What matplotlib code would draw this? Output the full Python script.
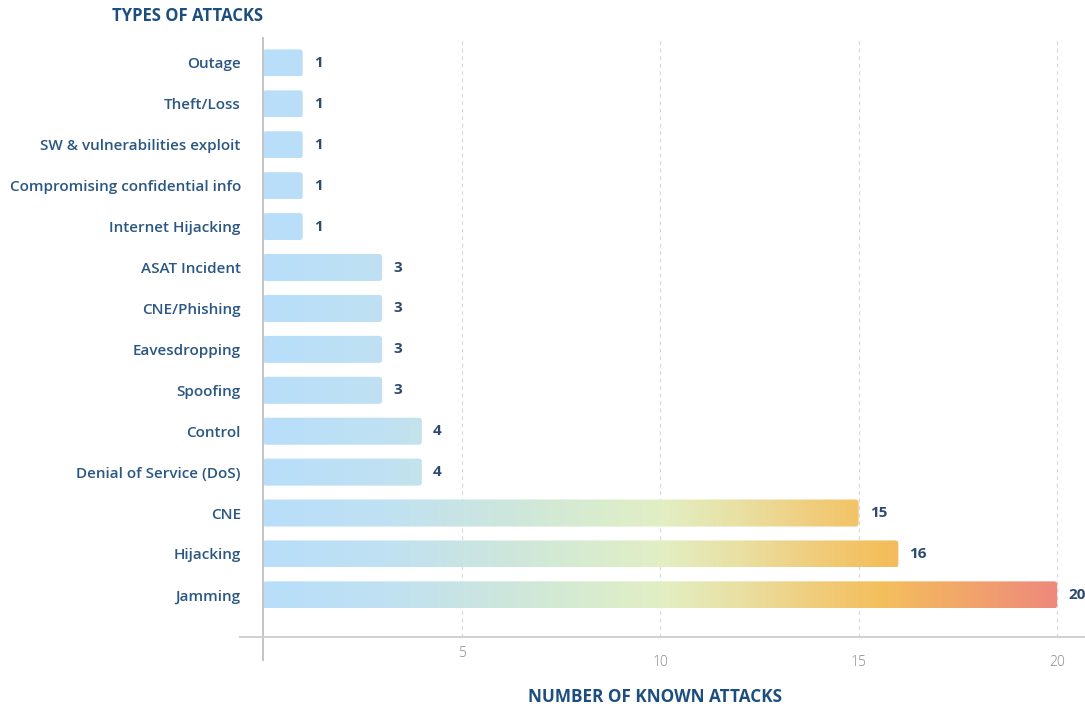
import numpy as np
import matplotlib
matplotlib.use("Agg")
import matplotlib.pyplot as plt
from matplotlib.colors import LinearSegmentedColormap
from matplotlib.patches import FancyBboxPatch
from matplotlib.lines import Line2D

# data, top row first
categories = ["Outage", "Theft/Loss", "SW & vulnerabilities exploit",
              "Compromising confidential info", "Internet Hijacking",
              "ASAT Incident", "CNE/Phishing", "Eavesdropping", "Spoofing",
              "Control", "Denial of Service (DoS)", "CNE", "Hijacking", "Jamming"]
counts = [1, 1, 1, 1, 1, 3, 3, 3, 3, 4, 4, 15, 16, 20]
x_ticks = [5, 10, 15, 20]

plt.rcParams['font.family'] = ['Open Sans', 'DejaVu Sans']

label_col = "#2b5783"
title_col = "#1d4f7e"

# gradient follows the x position, light blue -> pale green -> orange -> salmon
grad = LinearSegmentedColormap.from_list("attacks", [
    (0.00, "#b8defa"), (0.15, "#bfe1f2"), (0.25, "#c8e4e4"),
    (0.40, "#d6ebd0"), (0.50, "#e2efc4"), (0.60, "#e9e0a3"),
    (0.70, "#f0cc7a"), (0.78, "#f4bf5c"), (0.90, "#f1a26c"),
    (1.00, "#ee897c")])

fig = plt.figure(figsize=(10.85, 7.04), dpi=100)
ax = fig.add_axes([263 / 1085, 1 - 637 / 704, (1081 - 263) / 1085, (637 - 38) / 704])

pos = np.arange(len(categories))
bar_h = 0.66
bars = ax.barh(pos, counts, height=bar_h, color="none", edgecolor="none")

gmax = max(counts)
gradient = np.linspace(0, 1, 256).reshape(1, -1)
for rect in bars:
    x0, y0 = rect.get_x(), rect.get_y()
    w, h = rect.get_width(), rect.get_height()
    patch = FancyBboxPatch((x0, y0), w, h,
                           boxstyle="round,pad=0,rounding_size=0.08",
                           facecolor="none", edgecolor="none")
    ax.add_patch(patch)
    im = ax.imshow(gradient, extent=(0, gmax, y0 + h, y0), cmap=grad,
                   aspect="auto", interpolation="bicubic", zorder=2)
    im.set_clip_path(patch)

ax.bar_label(bars, labels=[str(c) for c in counts], padding=8,
             color="#2d4b6e", fontsize=11, fontweight="bold")

ax.set_xlim(0, 20.6)
ax.set_ylim(len(categories) - 1 + 1.03, -0.61)

ax.set_yticks(pos)
ax.set_yticklabels(categories, color=label_col, fontsize=11, fontweight="semibold")
ax.tick_params(axis="y", length=0, pad=16)

ax.set_xticks(x_ticks)
ax.set_xticklabels([])
ax.tick_params(axis="x", length=0)
ax.grid(axis="x", linestyle=(0, (3, 3)), color="#d9d9d9", linewidth=0.9)
ax.set_axisbelow(True)

# staggered x tick labels like the original
for i, t in enumerate(x_ticks):
    yy = -0.027 if i == 0 else -0.042
    ax.text(t, yy, str(t), transform=ax.get_xaxis_transform(), ha="center",
            va="center", fontsize=10, color="#888888", fontweight="light")

for s in ax.spines.values():
    s.set_visible(False)

# axis lines
ax.add_line(Line2D([0, 0], [1, -0.038], transform=ax.transAxes, color="#c4c4c4",
                   linewidth=1.4, clip_on=False))
fig.add_artist(Line2D([240 / 1085, 1], [1 - 637 / 704, 1 - 637 / 704],
                      transform=fig.transFigure, color="#cfcfcf", linewidth=1.4))

fig.text(188 / 1085, 1 - 16 / 704, "TYPES OF ATTACKS", ha="center", va="center",
         fontsize=12, fontweight="bold", color=title_col)
fig.text(655 / 1085, 1 - 697 / 704, "NUMBER OF KNOWN ATTACKS", ha="center",
         va="center", fontsize=12.3, fontweight="bold", color=title_col)

fig.savefig("out.png", dpi=100, facecolor="white")
